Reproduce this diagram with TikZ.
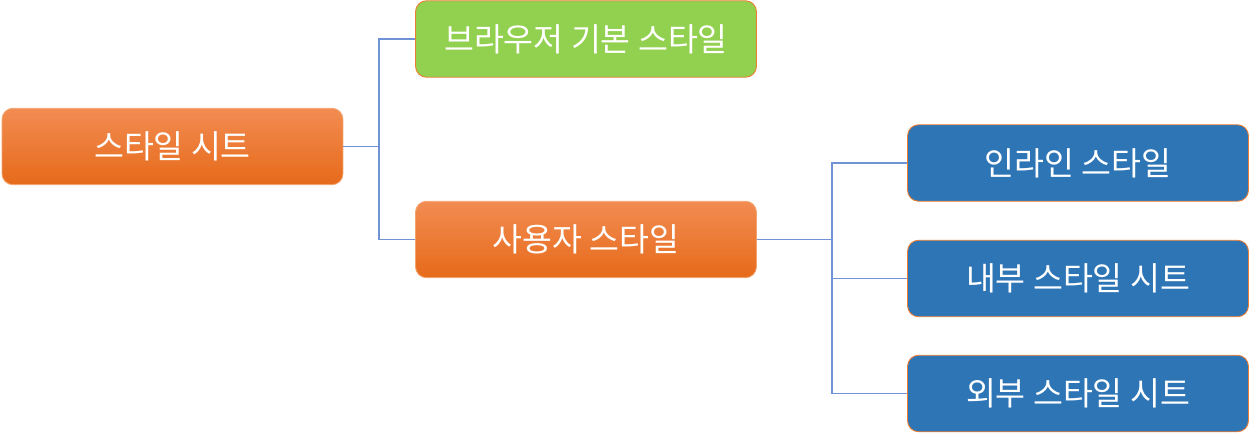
\documentclass[tikz,border=0pt]{standalone}
\usepackage{fontspec}
\setmainfont{Noto Sans CJK KR}
\definecolor{boxorange}{HTML}{ED7D31}
\definecolor{orangetop}{HTML}{F28C52}
\definecolor{orangebot}{HTML}{E66A1A}
\definecolor{boxgreen}{HTML}{92D050}
\definecolor{boxblue}{HTML}{2E75B6}
\definecolor{linkblue}{HTML}{6F93D6}
\begin{document}
\begin{tikzpicture}[x=0.02cm,y=-0.02cm,
	box/.style={rounded corners=0.22cm, minimum width=6.82cm, minimum height=1.53cm,
		inner sep=0pt, text=white, draw=boxorange!70, line width=0.5pt,
		font=\fontsize{18.5}{22}\selectfont},
	topic/.style={box, top color=orangetop, bottom color=orangebot},
	leaf/.style={box, fill=boxblue, draw=boxorange},
	link/.style={draw=linkblue, line width=0.6pt}]
	\useasboundingbox (0,0) rectangle (1250,433);
	\node[topic] (sheet) at (172.5,146.5) {스타일 시트};
	\node[box, fill=boxgreen, draw=boxorange] (browser) at (586,39) {브라우저 기본 스타일};
	\node[topic] (user) at (586,239.5) {사용자 스타일};
	\node[leaf] (inline) at (1078,163) {인라인 스타일};
	\node[leaf] (internal) at (1078,278.5) {내부 스타일 시트};
	\node[leaf] (external) at (1078,393.5) {외부 스타일 시트};
	% connectors
	\coordinate (fork1) at (379,146.5);
	\coordinate (fork2) at (832,239.5);
	\draw[link] (sheet.east) -- (fork1) |- (browser.west);
	\draw[link] (fork1) |- (user.west);
	\draw[link] (user.east) -- (fork2) |- (inline.west);
	\draw[link] (fork2) |- (internal.west);
	\draw[link] (fork2) |- (external.west);
\end{tikzpicture}
\end{document}
